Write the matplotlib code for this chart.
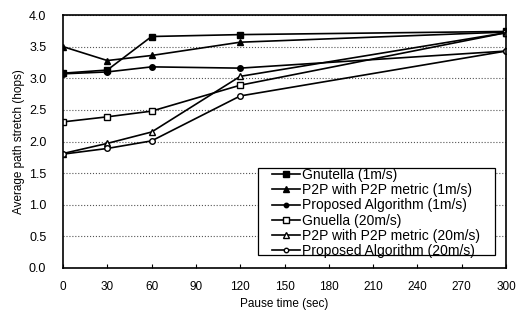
import matplotlib.pyplot as plt
from matplotlib.patches import Rectangle

pause = [0, 30, 60, 120, 300]

gnutella_1 = [3.08, 3.13, 3.66, 3.69, 3.74]
p2p_1 = [3.50, 3.28, 3.36, 3.57, 3.73]
proposed_1 = [3.07, 3.10, 3.18, 3.16, 3.43]
gnuella_20 = [2.31, 2.39, 2.48, 2.89, 3.72]
p2p_20 = [1.81, 1.97, 2.15, 3.03, 3.72]
proposed_20 = [1.80, 1.89, 2.01, 2.72, 3.43]

labels = ['Gnutella (1m/s)', 'P2P with P2P metric (1m/s)', 'Proposed Algorithm (1m/s)',
          'Gnuella (20m/s)', 'P2P with P2P metric (20m/s)', 'Proposed Algorithm (20m/s)']

plt.rcParams['font.family'] = ['Liberation Sans', 'DejaVu Sans']

fig = plt.figure(figsize=(5.27, 3.16), dpi=100)
ax = fig.add_axes([63 / 527, 48 / 316, 443 / 527, 253 / 316])

series = [gnutella_1, p2p_1, proposed_1, gnuella_20, p2p_20, proposed_20]
markers = ['s', '^', 'o', 's', '^', 'o']
sizes = [5, 5, 4, 5, 5, 4]
fills = ['black', 'black', 'black', 'white', 'white', 'white']

for i in range(len(series)):
    ax.plot(pause, series[i], color='black', lw=1.2, marker=markers[i], ms=sizes[i],
            mfc=fills[i], mec='black', mew=1.0, label=labels[i])

ax.set_xlim(0, 300)
ax.set_ylim(0, 4.0)
ax.set_xticks(range(0, 301, 30))
ax.set_yticks([0, 0.5, 1.0, 1.5, 2.0, 2.5, 3.0, 3.5, 4.0])
ax.set_yticklabels(['%.1f' % v for v in ax.get_yticks()])
ax.grid(axis='y', linestyle=':', color='#555555', lw=0.8)
ax.tick_params(axis='x', direction='in', length=3, labelsize=8.5, pad=9)
ax.tick_params(axis='y', length=0, labelsize=9, pad=12)
for s in ax.spines.values():
    s.set_linewidth(1.2)

ax.set_xlabel('Pause time (sec)', fontsize=8.5, labelpad=4)
ax.set_ylabel('Average path stretch (hops)', fontsize=8.5, labelpad=3)

# legend frame drawn by hand (wide box with extra right padding)
frame = Rectangle(((258 - 63) / 443, (268 - 255) / 253), (495 - 258) / 443, (255 - 168) / 253,
                  transform=ax.transAxes, facecolor='white', edgecolor='black', lw=0.9, zorder=4)
ax.add_patch(frame)
leg = ax.legend(loc='upper left', bbox_to_anchor=((272 - 63) / 443, (268 - 168) / 253),
                fontsize=10, frameon=False, handlelength=2.0, handletextpad=0.15,
                labelspacing=0.09, borderpad=0, borderaxespad=0, markerscale=0.8)
leg.set_zorder(5)

fig.savefig('out.png', dpi=100)
